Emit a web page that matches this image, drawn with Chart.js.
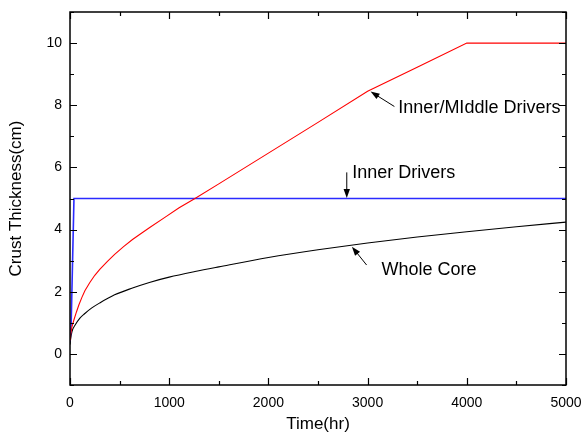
<!DOCTYPE html>
<html>
<head>
<meta charset="utf-8">
<script src="https://cdn.jsdelivr.net/npm/chart.js@4/dist/chart.umd.min.js"></script>
<style>
  html, body { margin: 0; padding: 0; background: #fff; }
  canvas { display: block; }
</style>
</head>
<body>
<canvas id="crust" width="584" height="441"></canvas>
<script>
// values
const redTime   = [0, 5, 20, 40, 65, 90, 120, 150, 200, 250, 300, 375, 450, 540, 630, 720, 800, 960, 1100, 1260, 1500, 2000, 2500, 3000, 3500, 4000, 5000];
const redCrust  = [0.45, 0.6, 0.88, 1.1, 1.35, 1.58, 1.82, 2.03, 2.3, 2.53, 2.72, 2.97, 3.2, 3.45, 3.68, 3.88, 4.06, 4.4, 4.7, 5.0, 5.47, 6.46, 7.45, 8.45, 9.22, 10, 10];

const blueTime  = [0, 12, 40, 5000];
const blueCrust = [0.4, 1.0, 5.0, 5.0];

const blackTime  = [0, 5, 20, 50, 100, 150, 220, 300, 450, 630, 800, 1000, 1260, 1500, 2000, 2500, 3000, 3500, 4000, 4500, 5000];
const blackCrust = [0.3, 0.45, 0.72, 0.92, 1.15, 1.3, 1.48, 1.64, 1.9, 2.12, 2.3, 2.47, 2.65, 2.8, 3.1, 3.35, 3.57, 3.76, 3.93, 4.09, 4.24];

const xTickLabels = [0, 1000, 2000, 3000, 4000, 5000];
const yTickLabels = [0, 2, 4, 6, 8, 10];

// text labels with arrows, in data units
const notes = [
  { text: 'Inner/MIddle Drivers', tx: 3310, ty: 7.9,  from: [3270, 7.96], to: [3030, 8.44] },
  { text: 'Inner Drivers',        tx: 2845, ty: 5.83, from: [2790, 5.84], to: [2790, 5.02] },
  { text: 'Whole Core',           tx: 3140, ty: 2.7,  from: [2990, 2.86], to: [2842, 3.45] }
];

const FONT = "'Liberation Sans', Arial, sans-serif";

function pts(xs, ys) {
  return xs.map((x, i) => ({ x: x, y: ys[i] }));
}

function arrow(ctx, x1, y1, x2, y2) {
  const ang = Math.atan2(y2 - y1, x2 - x1);
  const len = 9, half = 3.2;
  ctx.beginPath();
  ctx.moveTo(x1, y1);
  ctx.lineTo(x2 - Math.cos(ang) * len * 0.8, y2 - Math.sin(ang) * len * 0.8);
  ctx.stroke();
  ctx.beginPath();
  ctx.moveTo(x2, y2);
  ctx.lineTo(x2 - Math.cos(ang) * len - Math.sin(ang) * half, y2 - Math.sin(ang) * len + Math.cos(ang) * half);
  ctx.lineTo(x2 - Math.cos(ang) * len + Math.sin(ang) * half, y2 - Math.sin(ang) * len - Math.cos(ang) * half);
  ctx.closePath();
  ctx.fill();
}

// box frame, inward ticks and the arrow notes
const framePlugin = {
  id: 'framePlugin',
  afterDatasetsDraw(chart) {
    const { ctx, chartArea: a, scales: { x, y } } = chart;
    ctx.save();
    ctx.strokeStyle = '#000';
    ctx.fillStyle = '#000';
    ctx.lineWidth = 1.5;
    ctx.strokeRect(a.left, a.top, a.right - a.left, a.bottom - a.top);

    ctx.lineWidth = 1.2;
    x.ticks.forEach(t => {
      const px = Math.round(x.getPixelForValue(t.value)) + 0.5;
      const len = xTickLabels.includes(t.value) ? 7 : 4;
      ctx.beginPath();
      ctx.moveTo(px, a.bottom); ctx.lineTo(px, a.bottom - len);
      ctx.moveTo(px, a.top); ctx.lineTo(px, a.top + len);
      ctx.stroke();
    });
    y.ticks.forEach(t => {
      const py = Math.round(y.getPixelForValue(t.value)) + 0.5;
      const len = yTickLabels.includes(t.value) ? 7 : 4;
      ctx.beginPath();
      ctx.moveTo(a.left, py); ctx.lineTo(a.left + len, py);
      ctx.moveTo(a.right, py); ctx.lineTo(a.right - len, py);
      ctx.stroke();
    });

    ctx.lineWidth = 1;
    ctx.font = '18px ' + FONT;
    ctx.textBaseline = 'middle';
    ctx.textAlign = 'left';
    notes.forEach(n => {
      arrow(ctx,
        x.getPixelForValue(n.from[0]), y.getPixelForValue(n.from[1]),
        x.getPixelForValue(n.to[0]), y.getPixelForValue(n.to[1]));
      ctx.fillText(n.text, x.getPixelForValue(n.tx), y.getPixelForValue(n.ty));
    });
    ctx.restore();
  }
};

new Chart(document.getElementById('crust'), {
  type: 'line',
  data: {
    datasets: [
      { label: 'Inner/Middle Drivers', data: pts(redTime, redCrust), borderColor: '#ff0000', borderWidth: 1.1 },
      { label: 'Inner Drivers', data: pts(blueTime, blueCrust), borderColor: '#2b2bff', borderWidth: 1.6 },
      { label: 'Whole Core', data: pts(blackTime, blackCrust), borderColor: '#000000', borderWidth: 1.1, cubicInterpolationMode: 'monotone' }
    ]
  },
  options: {
    responsive: false,
    devicePixelRatio: 1,
    animation: false,
    elements: { point: { radius: 0 }, line: { tension: 0 } },
    layout: { padding: { top: 12, right: 18, left: 0, bottom: 0 } },
    plugins: { legend: { display: false }, tooltip: { enabled: false } },
    scales: {
      x: {
        type: 'linear',
        min: 0, max: 5000,
        afterFit: s => { s.height = 56; s.paddingLeft = 0; s.paddingRight = 0; },
        grid: { display: false, drawTicks: false },
        border: { display: false },
        ticks: {
          stepSize: 500,
          autoSkip: false,
          maxRotation: 0,
          padding: 10,
          color: '#000',
          font: { family: FONT, size: 14 },
          callback: v => xTickLabels.includes(v) ? String(v) : ''
        },
        title: { display: true, text: 'Time(hr)', color: '#000', font: { family: FONT, size: 17 }, padding: { top: 0, bottom: 6 } }
      },
      y: {
        min: -1, max: 11,
        afterFit: s => { s.width = 70; s.paddingTop = 0; s.paddingBottom = 0; },
        grid: { display: false, drawTicks: false },
        border: { display: false },
        ticks: {
          stepSize: 1,
          autoSkip: false,
          padding: 8,
          color: '#000',
          font: { family: FONT, size: 14 },
          callback: v => yTickLabels.includes(v) ? String(v) : ''
        },
        title: { display: true, text: 'Crust Thickness(cm)', color: '#000', font: { family: FONT, size: 17 }, padding: { top: 6, bottom: 0 } }
      }
    }
  },
  plugins: [framePlugin]
});
</script>
</body>
</html>
